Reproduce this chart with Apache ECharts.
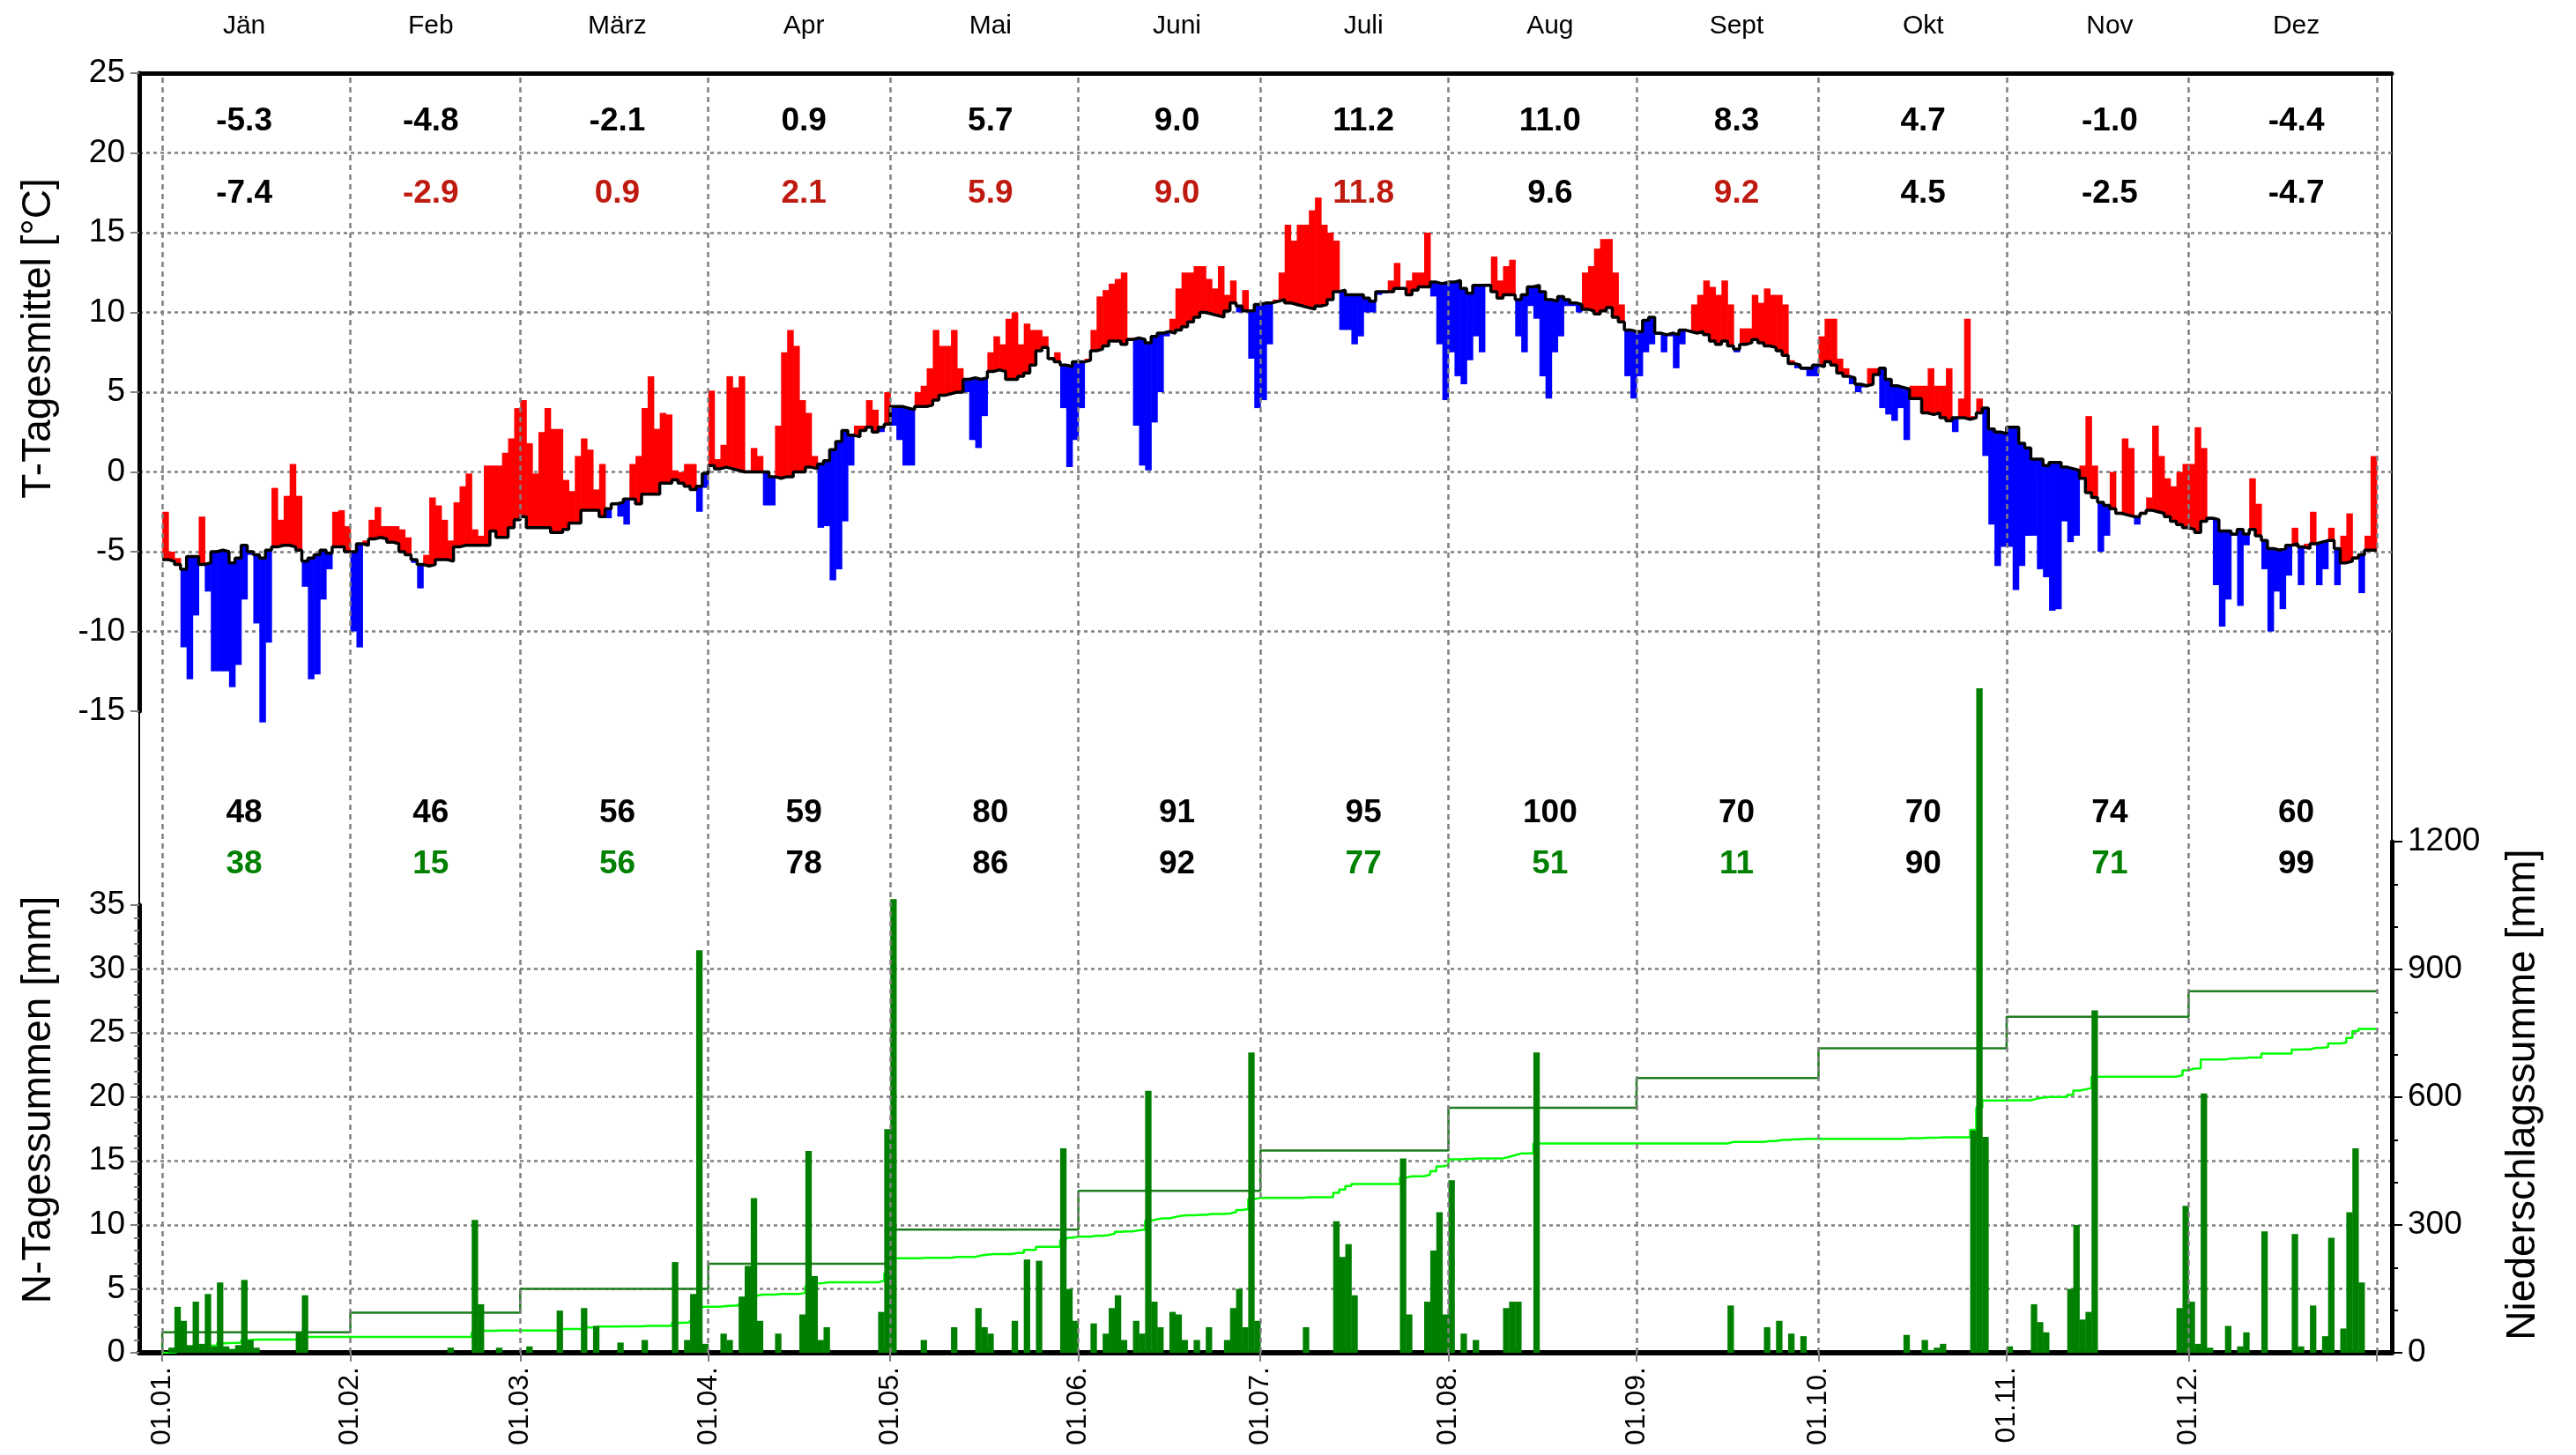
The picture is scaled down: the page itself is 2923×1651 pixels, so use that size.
<!DOCTYPE html>
<html lang="de">
<head>
<meta charset="utf-8">
<title>Temperatur und Niederschlag</title>
<script src="https://cdn.jsdelivr.net/npm/echarts@6.0.0/dist/echarts.min.js"></script>
<style>
  html, body { margin: 0; padding: 0; background: #fff; }
  #chart { width: 2923px; height: 1651px; }
</style>
</head>
<body>
<div id="chart"></div>
<script>
// Monate und Achsenbeschriftung
const monthNames = ['Jän', 'Feb', 'März', 'Apr', 'Mai', 'Juni', 'Juli', 'Aug', 'Sept', 'Okt', 'Nov', 'Dez'];
const dateLabels = ['01.01.', '01.02.', '01.03.', '01.04.', '01.05.', '01.06.', '01.07.', '01.08.', '01.09.', '01.10.', '01.11.', '01.12.'];
const monthStartDays = [0, 31, 59, 90, 120, 151, 181, 212, 243, 273, 304, 334, 365];

// Monatsmittel Temperatur: Normalwert (obere Zeile) und gemessen (untere Zeile)
const tempNormalMonth = [-5.3, -4.8, -2.1, 0.9, 5.7, 9.0, 11.2, 11.0, 8.3, 4.7, -1.0, -4.4];
const tempActualMonth = [-7.4, -2.9, 0.9, 2.1, 5.9, 9.0, 11.8, 9.6, 9.2, 4.5, -2.5, -4.7];

// Monatssummen Niederschlag: Normalwert und gemessen
const precNormalMonth = [48, 46, 56, 59, 80, 91, 95, 100, 70, 70, 74, 60];
const precActualMonth = [38, 15, 56, 78, 86, 92, 77, 51, 11, 90, 71, 99];

// Tagesmittel Temperatur, Normalwert (schwarze Stufenlinie)
const tempNormalDay = [
  -5.5,-5.6,-5.8,-6.1,-5.3,-5.3,-5.8,-5.7,-5.0,-4.9,-5.0,-5.7,-5.4,-4.6,-5.0,-5.2,-5.4,-4.9,-4.7,-4.6,-4.6,-4.7,-4.9,-5.6,-5.4,-5.2,-4.9,-5.1,-4.7,-4.7,-5.0,
  -5.0,-4.5,-4.6,-4.2,-4.1,-4.2,-4.4,-4.5,-5.0,-5.2,-5.5,-5.8,-5.9,-5.8,-5.5,-5.5,-5.6,-4.7,-4.6,-4.6,-4.6,-4.6,-4.6,-3.7,-4.1,-4.1,-3.5,-3.0,
  -2.8,-3.5,-3.5,-3.5,-3.5,-3.8,-3.8,-3.6,-3.2,-3.2,-2.4,-2.4,-2.4,-2.8,-2.3,-2.0,-1.9,-1.7,-1.7,-2.0,-1.4,-1.4,-1.4,-0.7,-0.7,-0.5,-0.7,-0.9,-1.1,-0.9,-0.1,
  0.4,0.2,0.3,0.2,0.1,0,0,0,0,0,-0.3,-0.4,-0.3,-0.3,0,0,0.3,0.2,0.5,0.7,1.4,1.9,2.6,2.3,2.2,2.6,2.8,2.5,2.8,3.0,
  4.1,4.1,4.0,3.9,4.1,4.1,4.2,4.5,4.8,4.9,5.0,5.0,5.8,5.9,5.8,5.9,6.3,6.4,6.3,5.8,5.8,6.0,6.2,6.7,7.6,7.8,7.1,6.9,6.7,6.6,6.9,
  6.9,7.0,7.6,7.7,7.9,8.2,8.2,8.0,8.3,8.4,8.3,8.1,8.5,8.7,8.8,8.7,8.9,9.1,9.4,9.7,10.0,9.9,9.8,9.7,10.1,10.6,10.4,10.1,10.1,10.5,
  10.6,10.6,10.7,10.8,10.6,10.5,10.4,10.3,10.2,10.4,10.5,10.8,11.3,11.4,11.1,11.1,11.1,10.9,10.7,11.3,11.3,11.3,11.5,11.5,11.1,11.4,11.6,11.6,11.9,11.8,11.9,
  11.9,12.0,11.5,11.2,11.7,11.7,11.7,11.3,10.9,11.1,11.1,10.8,11.1,11.6,11.7,11.3,10.8,10.7,11.0,10.8,10.6,10.5,10.2,10.1,9.9,10.1,10.3,9.7,9.4,8.9,8.8,
  8.8,9.5,9.7,8.7,8.6,8.7,8.6,8.9,8.8,8.7,8.8,8.6,8.2,8.0,8.2,7.9,7.7,8.0,8.1,8.3,8.1,7.9,7.8,7.6,7.3,6.8,6.7,6.5,6.5,6.7,
  6.6,6.9,6.7,6.2,6.0,5.9,5.5,5.4,5.5,6.1,6.5,5.8,5.4,5.3,5.2,4.6,4.6,3.7,3.6,3.7,3.4,3.2,3.4,3.4,3.3,3.4,3.7,4.0,2.7,2.5,2.4,
  2.8,2.8,1.8,1.5,0.8,0.8,0.4,0.6,0.6,0.3,0.2,0.1,-0.4,-1.3,-1.6,-1.9,-2.1,-2.3,-2.6,-2.7,-2.8,-2.8,-2.6,-2.4,-2.5,-2.6,-2.8,-3.1,-3.3,-3.5,
  -3.6,-3.8,-3.1,-2.9,-3.0,-3.7,-3.7,-3.9,-3.6,-3.9,-3.6,-4.0,-4.3,-4.8,-4.9,-4.8,-4.6,-4.5,-4.7,-4.8,-4.5,-4.4,-4.3,-4.3,-4.8,-5.7,-5.6,-5.4,-5.2,-4.9,-4.9
];

// Tagesmittel Temperatur, gemessen
const tempActualDay = [
  -2.5,-5.0,-5.4,-11.0,-13.0,-9.0,-2.8,-7.5,-12.5,-12.5,-12.5,-13.5,-12.1,-8.0,-5.2,-9.5,-15.7,-10.7,-1.0,-3.0,-1.5,0.5,-1.5,-7.2,-13.0,-12.7,-8.0,-6.1,-2.5,-2.4,-3.4,
  -10.0,-11.0,-4.3,-3.0,-2.2,-3.4,-3.4,-3.4,-3.6,-4.1,-5.7,-7.3,-5.2,-1.6,-2.1,-3.0,-4.3,-1.9,-0.9,-0.1,-3.6,-4.0,0.4,0.4,0.4,1.2,2.1,4.0,
  4.5,1.8,-0.1,2.5,4.0,2.7,2.7,-0.5,-1.2,1.0,2.1,1.4,-1.1,0.5,-2.9,-1.9,-2.8,-3.3,0.5,1.0,4.0,6.0,2.7,3.7,3.6,0.1,0.0,0.5,0.5,-2.5,-1.0,
  5.1,0.8,1.7,6.0,5.3,6.0,0.1,1.5,1.0,-2.1,-2.1,2.9,7.5,8.9,7.9,4.5,3.7,1.0,-3.5,-3.4,-6.8,-6.1,-3.1,0.4,2.9,2.9,4.5,3.9,2.5,5.0,
  2.9,2.0,0.4,0.4,5.0,5.4,6.5,8.9,7.9,7.9,8.9,6.5,5.0,2.0,1.5,3.5,7.5,8.5,8.0,9.6,10.0,8.0,9.3,8.9,8.9,8.5,7.2,7.5,4.0,0.3,2.0,
  4.0,7.1,8.9,11.0,11.4,11.8,12.1,12.5,8.4,2.9,0.4,0.1,3.1,5.0,8.5,9.6,11.5,12.5,12.5,12.9,12.9,12.1,11.5,12.9,11.1,12.0,10.0,11.4,7.1,4.0,
  4.5,8.0,10.8,12.5,15.5,14.5,15.5,15.5,16.4,17.2,15.5,15.0,14.5,8.9,8.9,8.0,8.5,10.0,10.0,11.1,11.2,12.0,13.1,11.5,12.0,12.5,12.5,15.0,11.0,8.0,4.5,
  7.5,6.0,5.5,7.0,8.5,7.5,11.8,13.5,12.0,12.9,13.3,8.5,7.5,10.4,9.6,6.0,4.6,7.5,8.5,10.4,10.4,10.0,12.5,12.9,14.0,14.6,14.6,12.5,10.5,6.0,4.6,
  6.0,7.5,8.0,8.6,7.5,8.5,6.5,8.0,8.9,10.5,11.1,12.0,11.6,11.1,12.0,10.5,7.5,9.0,9.0,11.1,10.6,11.5,11.1,11.1,10.5,7.0,6.5,6.4,6.0,6.0,
  8.5,9.6,9.6,7.1,6.5,5.5,5.0,5.3,6.5,6.5,4.0,3.6,3.2,4.0,2.0,5.4,5.4,5.4,6.5,5.4,5.4,6.5,2.5,4.6,9.6,3.5,4.6,1.0,-3.3,-5.9,-4.7,
  -4.7,-7.4,-5.9,-4.0,-4.0,-6.1,-6.6,-8.7,-8.6,-3.1,-4.4,-4.0,0.4,3.5,0.4,-5.0,-4.0,0.0,-2.5,2.1,1.5,-3.3,-2.5,-1.6,2.9,1.0,-0.4,-0.9,0.0,0.5,
  0.5,2.8,1.5,-3.0,-7.1,-9.7,-8.0,-4.0,-8.4,-4.6,-0.4,-2.0,-6.1,-10.0,-7.5,-8.6,-6.5,-3.5,-7.1,-4.5,-2.5,-7.1,-6.1,-3.5,-7.1,-4.0,-2.6,-5.3,-7.6,-4.0,1.0
];

// Tagessummen Niederschlag [mm]
const precDay = [
  0,0.4,3.6,2.5,0.6,4.0,0.7,4.6,0.5,5.5,0.5,0.3,0.6,5.7,1.0,0.4,0,0,0,0,0,0,1.6,4.5,0,0,0,0,0,0,0,
  0,0,0,0,0,0,0,0,0,0,0,0,0,0,0,0,0.4,0,0,0,10.4,3.8,0,0,0.4,0,0,0,
  0,0.5,0,0,0,0,3.3,0,0,0,3.5,0,2.1,0,0,0,0.8,0,0,0,1.0,0,0,0,0,7.1,0,1.0,4.6,31.5,0.7,
  0,0,1.5,1.0,0,4.4,6.8,12.1,2.5,0,0,1.5,0,0,0,3.0,15.8,6.0,1.0,2.0,0,0,0,0,0,0,0,0,3.2,17.5,
  35.5,0,0,0,0,1.0,0,0,0,0,2.0,0,0,0,3.5,2.0,1.5,0,0,0,2.5,0,7.3,0,7.2,0,0,0,16.0,5.0,2.5,
  0,0,2.3,0,1.5,3.5,4.5,1.0,0,2.5,1.5,20.5,4.0,2.0,0,3.2,3.0,1.0,0,1.0,0,2.0,0,0,1.0,3.5,5.0,2.0,23.5,2.5,
  0,0,0,0,0,0,0,2.0,0,0,0,0,10.3,7.5,8.5,4.5,0,0,0,0,0,0,0,15.2,3.0,0,0,4.0,8.0,11.0,3.0,
  13.5,0,1.5,0,1.0,0,0,0,0,3.5,4.0,4.0,0,0,23.5,0,0,0,0,0,0,0,0,0,0,0,0,0,0,0,0,
  0,0,0,0,0,0,0,0,0,0,0,0,0,0,0,3.7,0,0,0,0,0,2.0,0,2.5,0,1.5,0,1.3,0,0,
  0,0,0,0,0,0,0,0,0,0,0,0,0,0,1.4,0,0,1.0,0.2,0.4,0.7,0,0,0,0,17.4,52.0,16.9,0,0,0,
  0.5,0,0,0,3.8,2.4,1.6,0,0,0,5.0,10.0,2.6,3.2,26.8,0,0,0,0,0,0,0,0,0,0,0,0,0,3.5,11.5,
  4.0,0.7,20.3,0.4,0,0,2.1,0,0.5,1.6,0,0,9.5,0,0,0,0,9.3,0.5,0,3.7,0,1.3,9.0,0,1.9,11.0,16.0,5.5,0,0
];

const FONT = '"Liberation Sans", Arial, sans-serif';
const GRID_GRAY = '#808080';
const X_MIN = -3.8, X_MAX = 367.5;

// Beschriftungsposition je Monat (Tag im Jahr)
const labelDays = monthNames.map((n, m) => 13.5 + m * 30.75);

const chart = echarts.init(document.getElementById('chart'));

// Balken Temperatur: Abweichung vom Normalwert, rot = waermer, blau = kaelter
const tempBars = tempActualDay.map((t, i) => [i, tempNormalDay[i], t]);
const renderTempBar = (params, api) => {
  const day = api.value(0), norm = api.value(1), temp = api.value(2);
  const p0 = api.coord([day, Math.max(norm, temp)]);
  const p1 = api.coord([day + 1, Math.min(norm, temp)]);
  return {
    type: 'rect',
    shape: { x: p0[0], y: p0[1], width: p1[0] - p0[0] + 0.6, height: p1[1] - p0[1] },
    style: { fill: temp > norm ? '#ff0000' : '#0000ff' }
  };
};

// Normalwert als Stufenlinie
const normLine = tempNormalDay.map((v, i) => [i, v]);
normLine.push([365, tempNormalDay[364]]);

// Niederschlagsbalken
const precBars = [];
precDay.forEach((v, i) => { if (v > 0) precBars.push([i, v]); });
const renderPrecBar = (params, api) => {
  const p0 = api.coord([api.value(0), api.value(1)]);
  const p1 = api.coord([api.value(0) + 1, 0]);
  return {
    type: 'rect',
    shape: { x: p0[0], y: p0[1], width: p1[0] - p0[0] + 0.4, height: p1[1] - p0[1] },
    style: { fill: '#008000' }
  };
};

// Summenlinien
let sum = 0;
const precCum = [[0, 0]];
precDay.forEach((v, i) => { sum += v; precCum.push([i, sum]); });
precCum.push([365, sum]);

let normSum = 0;
const precNormCum = [[0, 0]];
precNormalMonth.forEach((v, m) => { normSum += v; precNormCum.push([monthStartDays[m], normSum]); });
precNormCum.push([365, normSum]);

// Zahlenzeilen (Monatswerte) als Text
const textRow = (values, level, colorOf, fmt, xIdx, yIdx) => ({
  type: 'custom',
  xAxisIndex: xIdx,
  yAxisIndex: yIdx,
  silent: true,
  z: 6,
  data: values.map((v, m) => [labelDays[m], level]),
  renderItem: (params, api) => {
    const p = api.coord([api.value(0), api.value(1)]);
    const m = params.dataIndex;
    return {
      type: 'text',
      x: p[0],
      y: p[1],
      style: {
        text: fmt(values[m]),
        fill: colorOf(m),
        font: 'bold 37px ' + FONT,
        align: 'center', verticalAlign: 'middle',
        textAlign: 'center', textVerticalAlign: 'middle'
      }
    };
  }
});

const oneDec = v => v.toFixed(1);
const whole = v => String(v);

const titleText = (text, x, y) => ({
  type: 'text',
  x: x,
  y: y,
  rotation: Math.PI / 2,
  silent: true,
  style: {
    text: text,
    font: '46px ' + FONT,
    fill: '#000',
    align: 'center', verticalAlign: 'middle',
    textAlign: 'center', textVerticalAlign: 'middle'
  }
});

const dottedSplit = {
  show: true,
  showMinLine: false,
  showMaxLine: false,
  lineStyle: { color: GRID_GRAY, width: 2.5, type: [4, 4] }
};

const option = {
  animation: false,
  backgroundColor: '#ffffff',
  textStyle: { fontFamily: FONT },
  grid: [
    { left: 158, top: 83, width: 2556, height: 724 },
    { left: 158, top: 955, width: 2556, height: 580 },
    { left: 158, top: 1027, width: 2556, height: 508 },
    { left: 158, top: 83, width: 2556, height: 1452, show: true, borderColor: '#000', borderWidth: 2, backgroundColor: 'rgba(0,0,0,0)' }
  ],
  xAxis: [
    {
      gridIndex: 0, type: 'value', min: X_MIN, max: X_MAX, position: 'top',
      axisLine: { show: true, onZero: false, lineStyle: { color: '#000', width: 5 } },
      axisTick: { show: false },
      splitLine: { show: false },
      axisLabel: {
        customValues: labelDays,
        formatter: v => monthNames[labelDays.findIndex(d => Math.abs(d - v) < 0.01)] || '',
        fontSize: 30, color: '#000', margin: 38
      }
    },
    { gridIndex: 1, type: 'value', min: X_MIN, max: X_MAX, show: false },
    {
      gridIndex: 2, type: 'value', min: X_MIN, max: X_MAX, position: 'bottom',
      axisLine: { show: true, onZero: false, lineStyle: { color: '#000', width: 6 } },
      axisTick: { show: true, customValues: monthStartDays, length: 10, lineStyle: { color: GRID_GRAY, width: 2 } },
      splitLine: { show: false },
      axisLabel: {
        customValues: monthStartDays.slice(0, 12),
        formatter: v => dateLabels[monthStartDays.indexOf(v)] || '',
        rotate: 90, fontSize: 32, color: '#000', margin: 16
      }
    },
    { gridIndex: 3, type: 'value', min: X_MIN, max: X_MAX, show: false }
  ],
  yAxis: [
    {
      gridIndex: 0, type: 'value', min: -15, max: 25, interval: 5,
      axisLine: { show: true, onZero: false, lineStyle: { color: '#000', width: 5 } },
      axisTick: { show: true, length: 10, lineStyle: { color: GRID_GRAY, width: 2 } },
      axisLabel: { fontSize: 37, color: '#000', margin: 16 },
      splitLine: dottedSplit
    },
    { gridIndex: 1, type: 'value', min: 0, max: 40, show: false },
    {
      gridIndex: 1, type: 'value', min: 0, max: 1200, interval: 300, position: 'right',
      axisLine: { show: true, onZero: false, lineStyle: { color: '#000', width: 5 } },
      axisTick: { show: true, length: 12, lineStyle: { color: '#000', width: 2 } },
      minorTick: { show: true, splitNumber: 3, length: 7, lineStyle: { color: '#000', width: 2 } },
      axisLabel: { fontSize: 37, color: '#000', margin: 18, formatter: v => String(v) },
      splitLine: { show: false }
    },
    {
      gridIndex: 2, type: 'value', min: 0, max: 35, interval: 5, position: 'left',
      axisLine: { show: true, onZero: false, lineStyle: { color: '#000', width: 5 } },
      axisTick: { show: true, length: 10, lineStyle: { color: GRID_GRAY, width: 2 } },
      minorTick: { show: true, splitNumber: 5, length: 6, lineStyle: { color: GRID_GRAY, width: 2 } },
      axisLabel: { fontSize: 37, color: '#000', margin: 16 },
      splitLine: dottedSplit
    },
    { gridIndex: 3, type: 'value', min: 0, max: 1, show: false }
  ],
  graphic: [
    titleText('T-Tagesmittel [°C]', 44, 384),
    titleText('N-Tagessummen [mm]', 44, 1248),
    titleText('Niederschlagssumme [mm]', 2863, 1242)
  ],
  series: [
    {
      // senkrechte Monatslinien ueber beide Diagramme
      type: 'line', xAxisIndex: 3, yAxisIndex: 4, z: 1, silent: true,
      data: [[0, -1], [365, -1]], symbol: 'none', lineStyle: { width: 0 },
      markLine: {
        silent: true, symbol: ['none', 'none'], label: { show: false },
        lineStyle: { color: GRID_GRAY, width: 2.5, type: [6, 5] },
        data: monthStartDays.map(d => ({ xAxis: d }))
      }
    },
    {
      type: 'custom', xAxisIndex: 0, yAxisIndex: 0, z: 3, silent: true,
      data: tempBars, renderItem: renderTempBar
    },
    {
      type: 'line', xAxisIndex: 0, yAxisIndex: 0, z: 4, silent: true,
      step: 'end', symbol: 'none', data: normLine,
      lineStyle: { color: '#000', width: 3.5 }
    },
    textRow(tempNormalMonth, 22.0, () => '#000', oneDec, 0, 0),
    textRow(tempActualMonth, 17.45, m => tempActualMonth[m] >= tempNormalMonth[m] ? '#bf1a0f' : '#000', oneDec, 0, 0),
    {
      type: 'line', xAxisIndex: 1, yAxisIndex: 2, z: 3, silent: true,
      step: 'end', symbol: 'none', data: precNormCum,
      lineStyle: { color: '#1e7d1e', width: 2.5 }
    },
    {
      type: 'line', xAxisIndex: 1, yAxisIndex: 2, z: 3, silent: true,
      step: 'end', symbol: 'none', data: precCum,
      lineStyle: { color: '#00ff00', width: 2.5 }
    },
    {
      type: 'custom', xAxisIndex: 1, yAxisIndex: 1, z: 4, silent: true, clip: false,
      data: precBars, renderItem: renderPrecBar
    },
    textRow(precNormalMonth, 42.2, () => '#000', whole, 1, 1),
    textRow(precActualMonth, 38.2, m => precActualMonth[m] <= precNormalMonth[m] ? '#008000' : '#000', whole, 1, 1)
  ]
};

chart.setOption(option);
</script>
</body>
</html>
